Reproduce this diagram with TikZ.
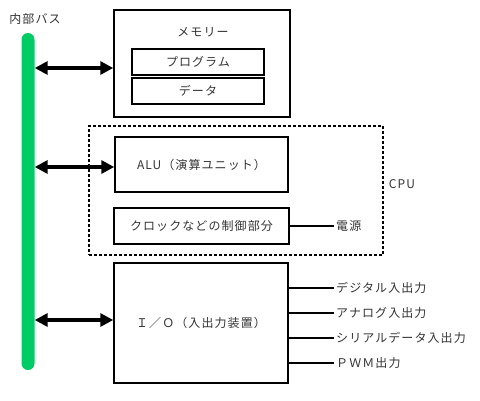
\documentclass[tikz,border=0pt]{standalone}
\usepackage{fontspec}
\setmainfont[LetterSpace=9]{Noto Sans CJK JP}
\usetikzlibrary{arrows.meta}
\definecolor{busgreen}{HTML}{00CC66}
\tikzset{
    blk/.style = {draw, line width=1.5pt, inner sep=0pt},
    cpubox/.style = {draw, line width=1.5pt, dash pattern=on 3pt off 2pt},
    lbl/.style = {text=black!80, font=\fontsize{12}{14}\selectfont, inner sep=2pt},
    dblarrow/.style = {line width=4pt, {Triangle[length=13pt,width=13pt]}-{Triangle[length=13pt,width=13pt]}},
    wire/.style = {line width=1.5pt}
}
\begin{document}
\begin{tikzpicture}[x=1pt, y=-1pt]
        \useasboundingbox (0,0) rectangle (480,400);
        % bus
        \node[fill=busgreen, rounded corners=6.5pt, minimum width=13pt, minimum height=337pt, inner sep=0pt] (bus) at (28,201.5) {};
        \node[lbl] (buslabel) at (35,19) {内部バス};
        % memory
        \node[blk, minimum width=176pt, minimum height=107pt] (mem) at (202,63.5) {};
        \node[lbl] (memlabel) at (203,32) {メモリー};
        \node[blk, lbl, minimum width=132pt, minimum height=26pt] (prog) at (198,62) {プログラム};
        \node[blk, lbl, minimum width=132pt, minimum height=26pt] (data) at (198,91) {データ};
        % cpu
        \node[cpubox, minimum width=294pt, minimum height=129pt] (cpu) at (236,190.5) {};
        \node[lbl] (cpulabel) at (402,184) {CPU};
        \node[blk, lbl, minimum width=173pt, minimum height=55pt] (alu) at (201.5,164.5) {ALU（演算ユニット）};
        \node[blk, lbl, minimum width=175pt, minimum height=36pt] (clk) at (201.5,226) {クロックなどの制御部分};
        \node[lbl, anchor=west] (power) at (334,226) {電源};
        \draw[wire] (clk) -- (power);
        % i/o
        \node[blk, lbl, minimum width=174pt, minimum height=120pt] (io) at (201,323) {Ｉ／Ｏ（入出力装置）};
        \foreach \y/\t [count=\i] in {288/デジタル入出力, 313/アナログ入出力, 338/シリアルデータ入出力, 363/ＰＷＭ出力}{
            \node[lbl, anchor=west] (out\i) at (334,\y) {\t};
            \draw[wire] (io.east |- out\i) -- (out\i);
        }
        % bus connections
        \draw[dblarrow] (bus.east |- 0,68) -- (mem.west |- 0,68);
        \draw[dblarrow] (bus.east |- 0,167) -- (alu.west |- 0,167);
        \draw[dblarrow] (bus.east |- 0,320) -- (io.west |- 0,320);
\end{tikzpicture}
\end{document}
